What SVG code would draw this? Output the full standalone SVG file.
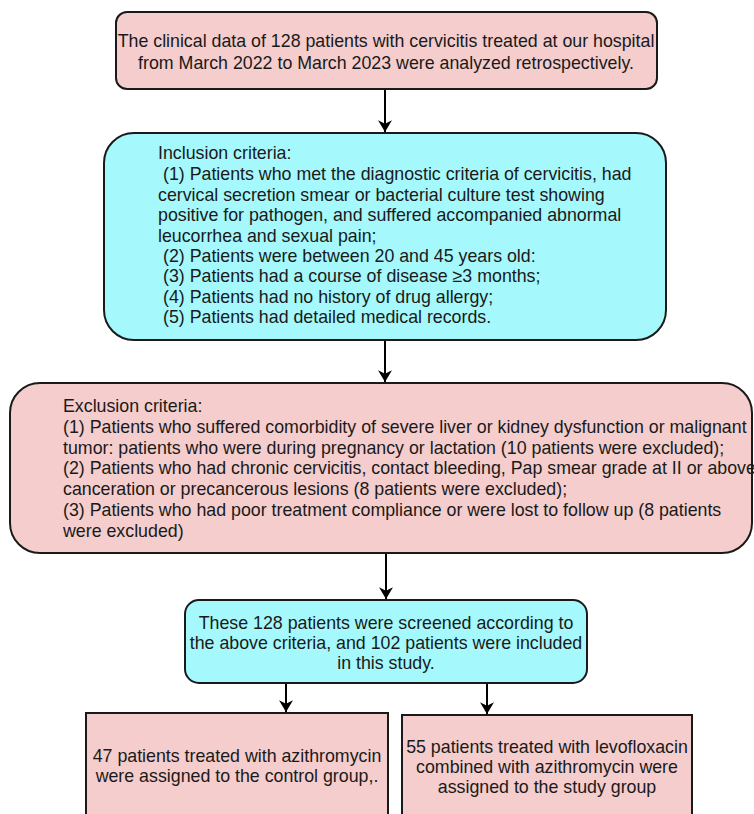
<svg xmlns="http://www.w3.org/2000/svg" width="754" height="814" viewBox="0 0 754 814">
<defs>
<style>
.pink{fill:#f4cdcc;stroke:#1a1a1a;stroke-width:2}
.cyan{fill:#a5f8fb;stroke:#1a1a1a;stroke-width:2}
text{font-family:"Liberation Sans",Arial,sans-serif;font-size:17.8px;fill:#1a1a1a}
.c{text-anchor:middle}
.conn{stroke:#000;stroke-width:2;fill:none;marker-end:url(#ah)}
</style>
<marker id="ah" viewBox="0 0 10 12" refX="10" refY="6" markerWidth="6" markerHeight="7" markerUnits="strokeWidth" orient="auto">
<path d="M0,0 L10,6 L0,12 L3,6 Z" fill="#000"/>
</marker>
</defs>
<rect width="754" height="814" fill="#fff"/>
<g id="connectors">
<line class="conn" x1="385" y1="89" x2="385" y2="132"/>
<line class="conn" x1="385" y1="340" x2="385" y2="382"/>
<line class="conn" x1="386" y1="553" x2="386" y2="599"/>
<line class="conn" x1="286" y1="683" x2="286" y2="712"/>
<line class="conn" x1="487" y1="683" x2="487" y2="714"/>
</g>
<g id="source">
<rect class="pink" x="116" y="12" width="541" height="77" rx="11"/>
<text class="c" x="386" y="47">The clinical data of 128 patients with cervicitis treated at our hospital</text>
<text class="c" x="386" y="69">from March 2022 to March 2023 were analyzed retrospectively.</text>
</g>
<g id="inclusion">
<rect class="cyan" x="104" y="133" width="562" height="207" rx="30"/>
<text x="158" y="159">Inclusion criteria:</text>
<text x="163" y="180">(1) Patients who met the diagnostic criteria of cervicitis, had</text>
<text x="158" y="201">cervical secretion smear or bacterial culture test showing</text>
<text x="158" y="221">positive for pathogen, and suffered accompanied abnormal</text>
<text x="158" y="242">leucorrhea and sexual pain;</text>
<text x="163" y="262">(2) Patients were between 20 and 45 years old:</text>
<text x="163" y="282">(3) Patients had a course of disease ≥3 months;</text>
<text x="163" y="303">(4) Patients had no history of drug allergy;</text>
<text x="163" y="323">(5) Patients had detailed medical records.</text>
</g>
<g id="exclusion">
<rect class="pink" x="10" y="383" width="742" height="170" rx="30"/>
<text x="63" y="412">Exclusion criteria:</text>
<text x="63" y="433">(1) Patients who suffered comorbidity of severe liver or kidney dysfunction or malignant</text>
<text x="63" y="454">tumor: patients who were during pregnancy or lactation (10 patients were excluded);</text>
<text x="63" y="474">(2) Patients who had chronic cervicitis, contact bleeding, Pap smear grade at II or above,</text>
<text x="63" y="495">canceration or precancerous lesions (8 patients were excluded);</text>
<text x="63" y="516">(3) Patients who had poor treatment compliance or were lost to follow up (8 patients</text>
<text x="63" y="537">were excluded)</text>
</g>
<g id="screened">
<rect class="cyan" x="185" y="600" width="402" height="83" rx="14"/>
<text class="c" x="386" y="629">These 128 patients were screened according to</text>
<text class="c" x="386" y="649">the above criteria, and 102 patients were included</text>
<text class="c" x="386" y="669">in this study.</text>
</g>
<g id="control">
<rect class="pink" x="86" y="713" width="302" height="120"/>
<text class="c" x="237" y="762">47 patients treated with azithromycin</text>
<text class="c" x="237" y="782">were assigned to the control group,.</text>
</g>
<g id="study">
<rect class="pink" x="402" y="715" width="290" height="120"/>
<text class="c" x="547" y="753">55 patients treated with levofloxacin</text>
<text class="c" x="547" y="773">combined with azithromycin were</text>
<text class="c" x="547" y="793">assigned to the study group</text>
</g>
</svg>
